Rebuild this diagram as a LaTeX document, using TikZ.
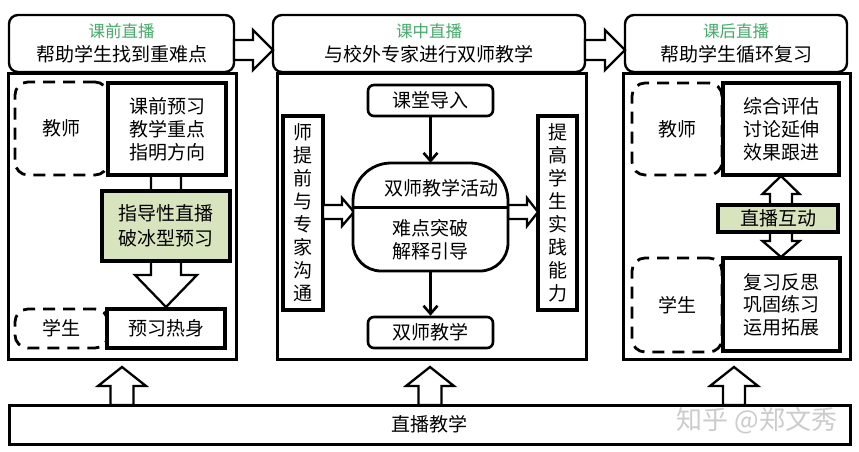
\documentclass[tikz,border=0pt]{standalone}
\usepackage{fontspec}
\setmainfont{Noto Sans CJK SC}
\usetikzlibrary{calc,arrows.meta}
\definecolor{hgreen}{RGB}{70,170,105}
\definecolor{gfill}{RGB}{215,228,189}
\newcommand\fs[2]{\fontsize{#1}{#2}\selectfont}
% vertical block arrow: start, tip, shaft half width, head half width, head length (signed)
\newcommand\vblock[5]{%
  \draw[barrow] ($(#1)+(-#3,0)$) -- ($(#2)+(-#3,#5)$) -- ($(#2)+(-#4,#5)$) -- (#2)
     -- ($(#2)+(#4,#5)$) -- ($(#2)+(#3,#5)$) -- ($(#1)+(#3,0)$) -- cycle;}
% horizontal block arrow to the right
\newcommand\hblock[5]{%
  \draw[barrow] ($(#1)+(0,-#3)$) -- ($(#2)+(-#5,-#3)$) -- ($(#2)+(-#5,-#4)$) -- (#2)
     -- ($(#2)+(-#5,#4)$) -- ($(#2)+(-#5,#3)$) -- ($(#1)+(0,#3)$) -- cycle;}
\tikzset{
  base/.style={inner sep=0pt, align=center, font=\fs{19}{23}},
  hdr/.style={base, draw, line width=2.4pt, rounded corners=9pt, fill=white, font=\fs{19}{24}},
  frame/.style={base, draw, line width=3pt, fill=white},
  sbox/.style={base, draw, line width=3.5pt, fill=white},
  dbox/.style={base, draw, line width=2.8pt, dash pattern=on 12pt off 8pt, rounded corners=13pt},
  gbox/.style={base, draw, line width=3.5pt, fill=gfill},
  rbox/.style={base, draw, line width=2.6pt, rounded corners=6pt, fill=white},
  barrow/.style={draw, fill=white, line width=2.3pt, line join=miter},
  larrow/.style={line width=2.6pt, -{Straight Barb[length=8pt,width=14pt,line width=2.6pt]}},
  txt/.style={base}
}
\begin{document}
\begin{tikzpicture}[x=1pt,y=-1pt]
\useasboundingbox (0,0) rectangle (859,451);
\fill[white] (0,0) rectangle (859,451);

% bottom box
\node[frame, minimum width=841pt, minimum height=39pt] (live) at (429.5,424.5) {直播教学};
\node[txt, text=black!20, font=\fs{26}{30}] (wm) at (757,421) {知乎 @郑文秀};

% main frames
\node[frame, minimum width=228pt, minimum height=286pt] (mainL) at (122,216) {};
\node[frame, minimum width=309pt, minimum height=286pt] (mainM) at (431.5,216) {};
\node[frame, minimum width=227pt, minimum height=286pt] (mainR) at (736.5,216) {};

% headers
\node[hdr, minimum width=225pt, minimum height=57pt] (hdrL) at (121.5,43.5)
  {{\color{hgreen}\fs{16.5}{24}课前直播}\\帮助学生找到重难点};
\node[hdr, minimum width=312pt, minimum height=57pt] (hdrM) at (429,43.5)
  {{\color{hgreen}\fs{16.5}{24}课中直播}\\与校外专家进行双师教学};
\node[hdr, minimum width=222pt, minimum height=57pt] (hdrR) at (736,43.5)
  {{\color{hgreen}\fs{16.5}{24}课后直播}\\帮助学生循环复习};

% header arrows
\coordinate (h1s) at (234,50); \coordinate (h1t) at (273,50);
\coordinate (h2s) at (585,50); \coordinate (h2t) at (625,50);
\hblock{h1s}{h1t}{10}{20}{20}
\hblock{h2s}{h2t}{10}{20}{20}

% arrows from live teaching up
\coordinate (u1s) at (122,405); \coordinate (u1t) at (122,367);
\coordinate (u2s) at (430,405); \coordinate (u2t) at (430,367);
\coordinate (u3s) at (734,405); \coordinate (u3t) at (734,367);
\vblock{u1s}{u1t}{11.5}{24}{19}
\vblock{u2s}{u2t}{11.5}{24}{19}
\vblock{u3s}{u3t}{11}{24}{19}

% ---------- left column ----------
\node[dbox, minimum width=93pt, minimum height=93pt] (tchL) at (61.5,128.5) {教师};
\node[dbox, minimum width=93pt, minimum height=39pt] (stuL) at (61.5,328.5) {学生};
\coordinate (d1s) at (166,175); \coordinate (d1t) at (166,307);
\vblock{d1s}{d1t}{15}{31}{-32}
\node[sbox, minimum width=118pt, minimum height=92pt] (prevL) at (167,129) {课前预习\\教学重点\\指明方向};
\node[gbox, minimum width=128pt, minimum height=70pt, font=\fs{19}{25}] (gL) at (166,226) {指导性直播\\破冰型预习};
\node[sbox, minimum width=118pt, minimum height=39pt] (warmL) at (166,328.5) {预习热身};

% ---------- middle column ----------
\node[sbox, minimum width=40pt, minimum height=194pt] (leftV) at (303,213) {师\\提\\前\\与\\专\\家\\沟\\通};
\node[sbox, minimum width=39pt, minimum height=194pt] (rightV) at (557.5,213) {提\\高\\学\\生\\实\\践\\能\\力};
\node[rbox, minimum width=125pt, minimum height=31pt] (intro) at (430.5,100.5) {课堂导入};
\node[rbox, minimum width=125pt, minimum height=31pt] (dualT) at (430.5,332.5) {双师教学};
\node[inner sep=0pt, minimum width=155pt, minimum height=108pt] (act) at (430.5,217) {};
\coordinate (c1s) at (323,212); \coordinate (c1t) at (354,212);
\coordinate (c2s) at (508,212); \coordinate (c2t) at (538,212);
\hblock{c1s}{c1t}{7}{14}{12}
\hblock{c2s}{c2t}{7}{14}{11}
\draw[line width=2.8pt, fill=white] (353,201) .. controls (353,180) and (370,163) .. (391,163)
  -- (470,163) .. controls (491,163) and (508,180) .. (508,201)
  -- (508,243) .. controls (508,258.5) and (495.5,271) .. (480,271)
  -- (381,271) .. controls (365.5,271) and (353,258.5) .. (353,243) -- cycle;
\draw[line width=3pt] (353,207) -- (508,207);
\node[txt] (actT) at (441,188) {双师教学活动};
\node[txt] (actB) at (430.5,240) {难点突破\\解释引导};
\draw[larrow] (intro.south) -- (act.north);
\draw[larrow] (act.south) -- (dualT.north);

% ---------- right column ----------
\node[dbox, minimum width=90pt, minimum height=92pt] (tchR) at (677,129) {教师};
\node[dbox, minimum width=90pt, minimum height=94pt] (stuR) at (677,305) {学生};
\node[sbox, minimum width=116pt, minimum height=92pt] (evalR) at (781,129) {综合评估\\讨论延伸\\效果跟进};
\node[sbox, minimum width=117pt, minimum height=93pt, font=\fs{19}{22.5}] (revR) at (781.5,304.5) {复习反思\\巩固练习\\运用拓展};
\coordinate (r1s) at (781,205); \coordinate (r1t) at (781,176);
\coordinate (r2s) at (781,232); \coordinate (r2t) at (781,257);
\vblock{r1s}{r1t}{11}{18.5}{18}
\vblock{r2s}{r2t}{11}{18.5}{-16}
\node[gbox, minimum width=120pt, minimum height=27pt] (gR) at (778,218.5) {直播互动};
\end{tikzpicture}
\end{document}
